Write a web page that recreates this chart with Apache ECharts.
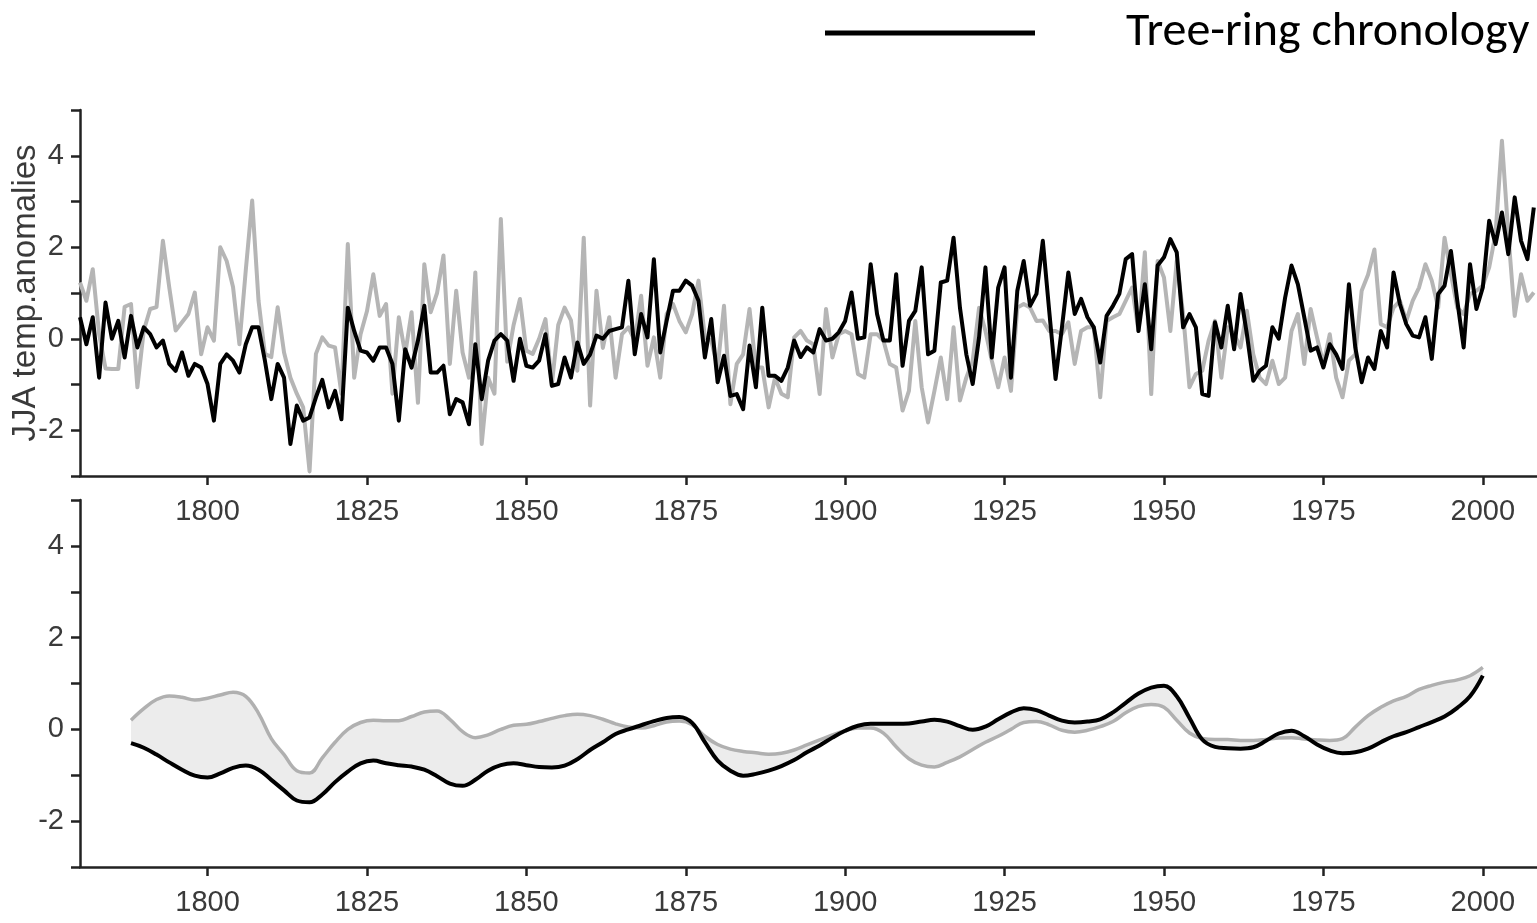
<!DOCTYPE html>
<html><head><meta charset="utf-8">
<script src="https://cdn.jsdelivr.net/npm/echarts@6/dist/echarts.min.js"></script>
<style>html,body{margin:0;padding:0;background:#fff}#chart{width:1537px;height:923px}</style>
</head><body><div id="chart"></div>
<script>
// ---- data ----
const firstYear = 1780;
const treeRing = [
 0.47,-0.12,0.47,-0.85,0.79,0,0.39,-0.41,0.5,-0.19,
 0.25,0.1,-0.19,-0.04,-0.55,-0.7,-0.3,-0.81,-0.55,-0.63,
 -0.99,-1.79,-0.55,-0.34,-0.48,-0.74,-0.12,0.25,0.25,-0.48,
 -1.32,-0.55,-0.85,-2.3,-1.46,-1.79,-1.72,-1.28,-0.9,-1.5,
 -1.14,-1.76,0.68,0.17,-0.26,-0.3,-0.48,-0.19,-0.19,-0.55,
 -1.79,-0.23,-0.63,-0.04,0.72,-0.74,-0.74,-0.59,-1.65,-1.32,
 -1.39,-1.87,-0.12,-1.32,-0.48,-0.04,0.1,-0.04,-0.92,0,
 -0.59,-0.63,-0.48,0.1,-1.03,-0.99,-0.41,-0.85,-0.08,-0.55,
 -0.34,0.07,0,0.17,0.21,0.25,1.27,-0.34,0.54,0.03,
 1.74,-0.3,0.39,1.05,1.05,1.27,1.16,0.83,-0.41,0.43,
 -0.95,-0.37,-1.25,-1.21,-1.54,-0.15,-1.06,0.68,-0.81,-0.81,
 -0.92,-0.63,-0.04,-0.4,-0.19,-0.3,0.21,-0.04,0,0.14,
 0.39,1.01,0,0.03,1.63,0.54,-0.04,-0.04,1.41,-0.59,
 0.39,0.61,1.56,-0.34,-0.26,1.23,1.27,2.21,0.68,-0.34,
 -0.99,0.03,1.56,-0.41,1.12,1.56,-0.85,1.05,1.7,0.72,
 0.98,2.14,0.61,-0.88,0.25,1.45,0.54,0.87,0.47,0.25,
 -0.52,0.5,0.72,0.98,1.74,1.85,0.17,1.19,-0.23,1.6,
 1.78,2.18,1.89,0.25,0.54,0.25,-1.21,-1.25,0.36,-0.19,
 0.72,-0.23,0.98,0.1,-0.92,-0.7,-0.59,0.25,0,0.9,
 1.6,1.19,0.47,-0.26,-0.19,-0.63,-0.12,-0.34,-0.66,1.19,
 -0.19,-0.95,-0.41,-0.66,0.17,-0.19,1.45,0.76,0.32,0.07,
 0.03,0.47,-0.44,0.98,1.16,1.92,0.83,-0.19,1.63,0.65,
 1.12,2.58,2.07,2.76,1.85,3.09,2.14,1.74,2.87
];
const instrumental = [
 1.23,0.83,1.52,0.1,-0.65,-0.66,-0.66,0.7,0.76,-1.06,
 0.18,0.65,0.69,2.14,1.12,0.18,0.36,0.54,1.01,-0.34,
 0.25,-0.04,2.0,1.7,1.13,-0.12,1.5,3.02,0.83,-0.33,
 -0.4,0.69,-0.3,-0.85,-1.2,-1.5,-2.9,-0.33,0.03,-0.15,
 -0.19,-1.2,2.07,-0.85,0.1,0.6,1.41,0.5,0.76,-1.2,
 0.47,-0.33,0.58,-1.4,1.63,0.58,1.0,1.82,-0.55,1.05,
 -0.3,-0.85,1.45,-2.3,-0.85,-1.2,2.62,-0.5,0.3,0.87,
 -0.26,-0.33,0.0,0.43,-1.0,0.3,0.68,0.4,-0.7,2.21,
 -1.46,1.05,-0.2,0.47,-0.85,0.1,0.25,-0.04,0.94,-0.59,
 0.03,-0.85,0.54,0.76,0.39,0.14,0.54,1.27,0.03,-0.04,
 -0.63,0.72,-1.43,-0.55,-0.34,0.65,-0.63,-0.63,-1.5,-0.85,
 -1.2,-1.28,0.03,0.17,-0.04,-0.12,-1.21,0.65,-0.41,0.1,
 0.17,0.1,-0.77,-0.85,0.1,0.1,-0.04,-0.55,-0.63,-1.57,
 -1.14,0.39,-1.06,-1.83,-1.14,-0.41,-1.32,0.25,-1.35,-0.85,
 -0.48,0.68,0.17,-0.48,-1.06,-0.41,-1.14,0.68,0.76,0.68,
 0.39,0.4,0.17,0.17,0.1,0.36,-0.55,0.17,0.25,0.25,
 -1.28,0.39,0.47,0.54,0.83,1.12,0.17,1.89,-1.21,1.7,
 1.34,0.17,1.7,0.54,-1.06,-0.77,-0.7,-0.04,0.39,-0.85,
 0.25,0.1,-0.19,0.61,-0.34,-0.85,-0.99,-0.48,-0.99,-0.85,
 0.17,0.54,-0.55,0.65,0.03,-0.55,0.1,-0.85,-1.28,-0.48,
 -0.34,1.05,1.4,1.95,0.32,0.25,0.68,0.83,0.39,0.83,
 1.12,1.63,1.27,0.68,2.21,1.41,0.68,0.54,0.98,1.05,
 1.16,1.56,2.29,4.33,2.29,0.5,1.41,0.83,1.01
];
const smoothFirstYear = 1788;
const smoothStep = 2;
const instrumentalSmooth = [
 0.20,0.45,0.65,0.73,0.70,0.64,0.68,0.75,0.81,0.72,
 0.35,-0.20,-0.55,-0.90,-0.95,-0.62,-0.28,0.00,0.15,0.20,
 0.19,0.19,0.28,0.38,0.40,0.22,-0.05,-0.18,-0.12,0.00,
 0.09,0.11,0.17,0.24,0.30,0.33,0.30,0.22,0.12,0.05,
 0.03,0.08,0.16,0.18,0.10,-0.15,-0.33,-0.43,-0.48,-0.51,
 -0.54,-0.52,-0.45,-0.34,-0.23,-0.12,-0.03,0.03,0.03,-0.08,
 -0.38,-0.64,-0.78,-0.82,-0.72,-0.60,-0.44,-0.28,-0.15,0.00,
 0.15,0.17,0.10,-0.02,-0.06,-0.02,0.06,0.17,0.36,0.50,
 0.54,0.48,0.20,-0.08,-0.20,-0.22,-0.22,-0.24,-0.24,-0.22,
 -0.19,-0.18,-0.21,-0.23,-0.24,-0.20,0.05,0.30,0.48,0.62,
 0.72,0.87,0.96,1.03,1.08,1.17,1.35
];
const treeRingSmooth = [
 -0.30,-0.40,-0.55,-0.72,-0.88,-1.01,-1.05,-0.96,-0.84,-0.79,
 -0.88,-1.10,-1.33,-1.55,-1.59,-1.42,-1.15,-0.92,-0.74,-0.68,
 -0.74,-0.78,-0.81,-0.88,-1.02,-1.18,-1.23,-1.10,-0.90,-0.78,
 -0.74,-0.78,-0.82,-0.83,-0.79,-0.65,-0.45,-0.28,-0.10,0.00,
 0.09,0.18,0.25,0.27,0.14,-0.28,-0.68,-0.90,-1.01,-0.97,
 -0.90,-0.80,-0.67,-0.50,-0.35,-0.18,-0.03,0.08,0.12,0.12,
 0.12,0.13,0.17,0.21,0.17,0.07,-0.01,0.06,0.22,0.37,
 0.46,0.42,0.30,0.19,0.15,0.17,0.22,0.37,0.58,0.78,
 0.91,0.95,0.72,0.25,-0.22,-0.38,-0.41,-0.42,-0.39,-0.25,
 -0.09,-0.03,-0.15,-0.33,-0.46,-0.52,-0.50,-0.42,-0.28,-0.15,
 -0.06,0.05,0.16,0.28,0.47,0.72,1.17
];
const xTickValues = [1800,1825,1850,1875,1900,1925,1950,1975,2000];
const yLabelValues = [-2,0,2,4];
const legendName = 'Tree-ring chronology';
const yAxisName = 'JJA temp.anomalies';

// ---- build ----
const annualPairs = arr => arr.map((v,i)=>[firstYear+i, v]);
const smoothYears = instrumentalSmooth.map((_,i)=>smoothFirstYear + i*smoothStep);
const smoothPairs = arr => arr.map((v,i)=>[smoothYears[i], v]);

const AX = '#222';
const TXT = '#3a3a3a';
const FONT = '"Liberation Sans", Arial, sans-serif';

function xAxisCfg(gi){
  return {
    gridIndex: gi, type:'value', min:1780, max:2008.5,
    axisLine:{show:true, onZero:false, lineStyle:{color:AX, width:2.5}},
    axisTick:{show:true, customValues:xTickValues, length:9, lineStyle:{color:AX, width:2.5}},
    axisLabel:{customValues:xTickValues, margin:21, fontSize:29, color:TXT, fontFamily:FONT,
      formatter: v => String(v)},
    splitLine:{show:false}
  };
}
function yAxisCfg(gi, named){
  const c = {
    gridIndex: gi, type:'value', min:-3, max:5, interval:1,
    axisLine:{show:true, onZero:false, lineStyle:{color:AX, width:2.5}},
    axisTick:{show:true, length:9, lineStyle:{color:AX, width:2.5}},
    axisLabel:{margin:16, fontSize:29, color:TXT, fontFamily:FONT,
      formatter: v => yLabelValues.indexOf(v) >= 0 ? String(v) : ''},
    splitLine:{show:false}
  };
  if (named){
    c.name = yAxisName; c.nameLocation = 'middle'; c.nameGap = 38;
    c.nameMoveOverlap = false;
    c.nameTextStyle = {fontSize:33, color:TXT, fontFamily:FONT};
  }
  return c;
}

const chart = echarts.init(document.getElementById('chart'), null, {renderer:'canvas'});
chart.setOption({
  animation:false,
  backgroundColor:'#fff',
  legend:{
    data:[legendName], left:820, top:3, icon:'rect', itemWidth:210, itemHeight:5,
    selectedMode:false,
    textStyle:{fontFamily:'Carlito, Lato, sans-serif', fontSize:48, color:'#000', lineHeight:50, padding:[0,0,0,86]}
  },
  grid:[
    {left:80, right:0, top:110, height:366, outerBoundsMode:'none', containLabel:false},
    {left:80, right:0, top:500, height:367, outerBoundsMode:'none', containLabel:false}
  ],
  xAxis:[xAxisCfg(0), xAxisCfg(1)],
  yAxis:[yAxisCfg(0,true), yAxisCfg(1,false)],
  series:[
    {name:'Instrumental', type:'line', xAxisIndex:0, yAxisIndex:0, data:annualPairs(instrumental),
     showSymbol:false, z:2, lineStyle:{color:'#b5b5b5', width:4, join:'round'}, itemStyle:{color:'#b5b5b5'}},
    {name:legendName, type:'line', xAxisIndex:0, yAxisIndex:0, data:annualPairs(treeRing),
     showSymbol:false, z:3, lineStyle:{color:'#000', width:4, join:'round'}, itemStyle:{color:'#000'}},
    {name:'band', type:'custom', xAxisIndex:1, yAxisIndex:1, silent:true, z:1,
     data:[[smoothYears[0], instrumentalSmooth[0]]],
     renderItem:(params, api) => {
       const upper = smoothYears.map((y,i)=>api.coord([y, instrumentalSmooth[i]]));
       const lower = smoothYears.map((y,i)=>api.coord([y, treeRingSmooth[i]])).reverse();
       return {type:'polygon', shape:{points: upper.concat(lower)}, style:{fill:'#ececec'}};
     }},
    {name:'Instrumental smooth', type:'line', xAxisIndex:1, yAxisIndex:1, data:smoothPairs(instrumentalSmooth),
     showSymbol:false, smooth:0.4, z:2, lineStyle:{color:'#b0b0b0', width:3.5}, itemStyle:{color:'#b0b0b0'}},
    {name:'Tree-ring smooth', type:'line', xAxisIndex:1, yAxisIndex:1, data:smoothPairs(treeRingSmooth),
     showSymbol:false, smooth:0.4, z:3, lineStyle:{color:'#000', width:4}, itemStyle:{color:'#000'}}
  ]
});
</script></body></html>
